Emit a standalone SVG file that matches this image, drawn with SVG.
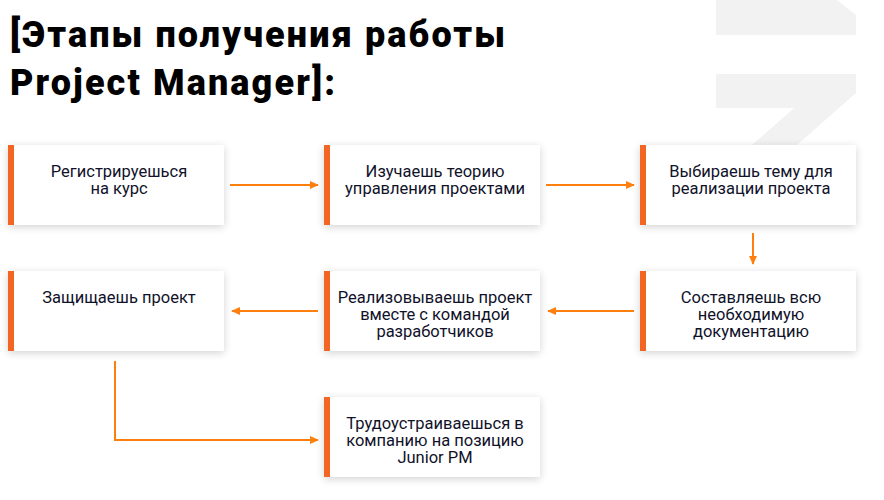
<svg xmlns="http://www.w3.org/2000/svg" width="884" height="500" viewBox="0 0 884 500">
<defs>
<filter id="sh" x="-10%" y="-20%" width="120%" height="150%">
<feGaussianBlur in="SourceAlpha" stdDeviation="4"/>
<feOffset dx="0" dy="2" result="b"/>
<feComponentTransfer><feFuncA type="linear" slope="0.18"/></feComponentTransfer>
<feMerge><feMergeNode/><feMergeNode in="SourceGraphic"/></feMerge>
</filter>
<marker id="ah" viewBox="0 0 10 10" refX="9" refY="5" markerWidth="9" markerHeight="8" markerUnits="userSpaceOnUse" orient="auto" preserveAspectRatio="none">
<path d="M0,0 L10,5 L0,10 z" fill="#ff7f0e"/>
</marker>
</defs>
<style>
.box{fill:#ffffff;filter:url(#sh)}
.bar{fill:#f26522}
.t{font-family:Roboto,"Liberation Sans",sans-serif;font-size:16.5px;fill:#10122a;text-anchor:middle}
.ttl{font-family:Roboto,"Liberation Sans",sans-serif;font-size:36px;font-weight:900;fill:#000}
.c{stroke:#ff7f0e;stroke-width:2;fill:none}
.wm{fill:#f2f2f2}
</style>
<rect width="884" height="500" fill="#ffffff"/>
<g id="watermark">
<path class="wm" d="M716,0 L837,0 L856,15 L856,35 L716,35 z"/>
<path class="wm" d="M716,74 L856,74 L856,93 L797,145 L752,145 L794,108 L716,108 z"/>
</g>
<g id="title">
<text class="ttl" x="10" y="47" textLength="495" lengthAdjust="spacing">[Этапы получения работы</text>
<text class="ttl" x="10" y="95" textLength="325" lengthAdjust="spacing">Project Manager]:</text>
</g>
<g id="connectors">
<line class="c" x1="230" y1="185" x2="318" y2="185" marker-end="url(#ah)"/>
<line class="c" x1="546" y1="185" x2="634" y2="185" marker-end="url(#ah)"/>
<line class="c" x1="753" y1="233" x2="753" y2="264" marker-end="url(#ah)"/>
<line class="c" x1="634" y1="311" x2="548" y2="311" marker-end="url(#ah)"/>
<line class="c" x1="318" y1="311" x2="232" y2="311" marker-end="url(#ah)"/>
<polyline class="c" points="115,361 115,440 318,440" marker-end="url(#ah)"/>
</g>
<g id="n1">
<rect class="box" x="8" y="145" width="216" height="80"/>
<rect class="bar" x="8" y="145" width="6" height="80"/>
<text class="t" x="119" y="177">Регистрируешься</text>
<text class="t" x="119" y="194">на курс</text>
</g>
<g id="n2">
<rect class="box" x="324" y="145" width="216" height="80"/>
<rect class="bar" x="324" y="145" width="6" height="80"/>
<text class="t" x="435" y="177">Изучаешь теорию</text>
<text class="t" x="435" y="194">управления проектами</text>
</g>
<g id="n3">
<rect class="box" x="640" y="145" width="216" height="80"/>
<rect class="bar" x="640" y="145" width="6" height="80"/>
<text class="t" x="751" y="177">Выбираешь тему для</text>
<text class="t" x="751" y="194">реализации проекта</text>
</g>
<g id="n4">
<rect class="box" x="640" y="271" width="216" height="80"/>
<rect class="bar" x="640" y="271" width="6" height="80"/>
<text class="t" x="751" y="303">Составляешь всю</text>
<text class="t" x="751" y="320">необходимую</text>
<text class="t" x="751" y="337">документацию</text>
</g>
<g id="n5">
<rect class="box" x="324" y="271" width="216" height="80"/>
<rect class="bar" x="324" y="271" width="6" height="80"/>
<text class="t" x="435" y="303">Реализовываешь проект</text>
<text class="t" x="435" y="320">вместе с командой</text>
<text class="t" x="435" y="337">разработчиков</text>
</g>
<g id="n6">
<rect class="box" x="8" y="271" width="216" height="80"/>
<rect class="bar" x="8" y="271" width="6" height="80"/>
<text class="t" x="119" y="303">Защищаешь проект</text>
</g>
<g id="n7">
<rect class="box" x="324" y="397" width="216" height="80"/>
<rect class="bar" x="324" y="397" width="6" height="80"/>
<text class="t" x="435" y="429">Трудоустраиваешься в</text>
<text class="t" x="435" y="446">компанию на позицию</text>
<text class="t" x="435" y="463">Junior PM</text>
</g>
</svg>
